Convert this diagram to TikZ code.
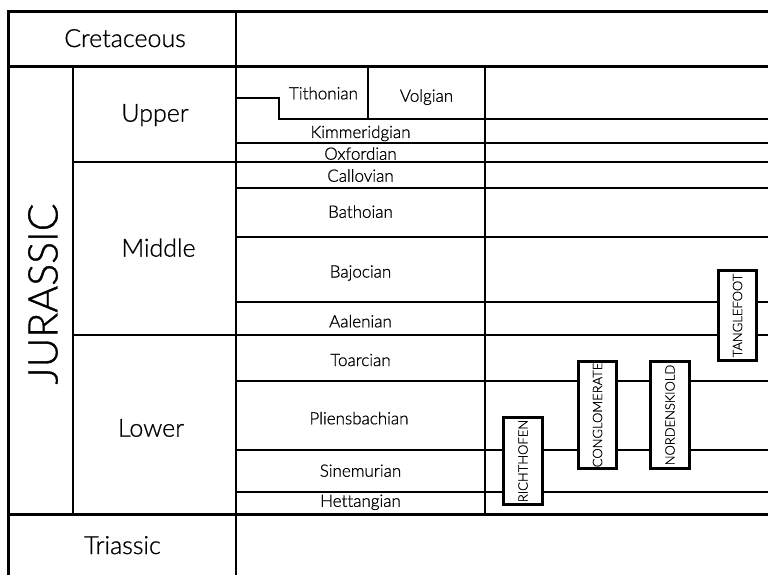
\documentclass[tikz,border=0pt]{standalone}
\usepackage{fontspec}
\setmainfont[Ligatures=NoCommon,FakeBold=0.9]{Lato Light}
\begin{document}
\begin{tikzpicture}[x=1pt,y=-1pt,
  thickrule/.style={line width=3pt},
  seriesrule/.style={line width=1.9pt},
  thinrule/.style={line width=1.4pt},
  periodlabel/.style={anchor=base,inner sep=0pt,font=\fontsize{25}{30}\selectfont},
  stagelabel/.style={anchor=base,inner sep=0pt,font=\fontsize{17}{20}\selectfont},
  formation/.style={draw,line width=3pt,fill=white,inner sep=0pt,rotate=90,
    font=\fontsize{13}{15}\selectfont}]
\useasboundingbox (0,0) rectangle (768,575);

% stage and series rules
\draw[thinrule] (236,12) -- (236,577);
\draw[thinrule] (73,67) -- (73,514);
\draw[thinrule] (485,67) -- (485,514);
\draw[thinrule] (368,67) -- (368,119);
\draw[thinrule] (236,98) -- (279,98) -- (279,119) -- (770,119);
\foreach \yy in {143,188,237,302,381,450,492}
  \draw[thinrule] (236,\yy) -- (770,\yy);
\draw[seriesrule] (73,162) -- (770,162);
\draw[seriesrule] (73,335) -- (770,335);

% period boundaries and outer frame
\draw[thickrule] (8,577) -- (8,12) -- (770,12);
\draw[thickrule] (8,67) -- (770,67);
\draw[thickrule] (8,514) -- (770,514);

% periods and series
\node[periodlabel] (cretaceous) at (125,47) {Cretaceous};
\node[periodlabel] (triassic) at (122.5,554) {Triassic};
\node[anchor=center,inner sep=0pt,rotate=90,font=\fontsize{41}{48}\selectfont]
  (jurassic) at (43,294) {JURASSIC};
\node[periodlabel] (upper) at (155,121.7) {Upper};
\node[periodlabel] (middle) at (158.5,256.7) {Middle};
\node[periodlabel] (lower) at (151,436.7) {Lower};

% stages
\node[stagelabel] (tithonian) at (323.5,99.3) {Tithonian};
\node[stagelabel] (volgian) at (426.5,101.7) {Volgian};
\node[stagelabel] (kimmeridgian) at (360.5,138) {Kimmeridgian};
\node[stagelabel] (oxfordian) at (360.5,159.7) {Oxfordian};
\node[stagelabel] (callovian) at (360.5,181.7) {Callovian};
\node[stagelabel] (bathoian) at (360.5,217.7) {Bathoian};
\node[stagelabel] (bajocian) at (360.5,277.5) {Bajocian};
\node[stagelabel] (aalenian) at (360.5,327.3) {Aalenian};
\node[stagelabel] (toarcian) at (360.5,366) {Toarcian};
\node[stagelabel] (pliensbachian) at (359,424.3) {Pliensbachian};
\node[stagelabel] (sinemurian) at (360.5,476.7) {Sinemurian};
\node[stagelabel] (hettangian) at (360.5,506.8) {Hettangian};

% formations
\node[formation,minimum width=87pt,minimum height=39pt] (richthofen) at (523,461) {RICHTHOFEN};
\node[formation,minimum width=107pt,minimum height=38pt] (conglomerate) at (597.5,415) {CONGLOMERATE};
\node[formation,minimum width=107pt,minimum height=39pt] (nordenskiold) at (670,415) {NORDENSKIOLD};
\node[formation,minimum width=90pt,minimum height=38pt] (tanglefoot) at (737.5,315.5) {TANGLEFOOT};
\end{tikzpicture}
\end{document}
